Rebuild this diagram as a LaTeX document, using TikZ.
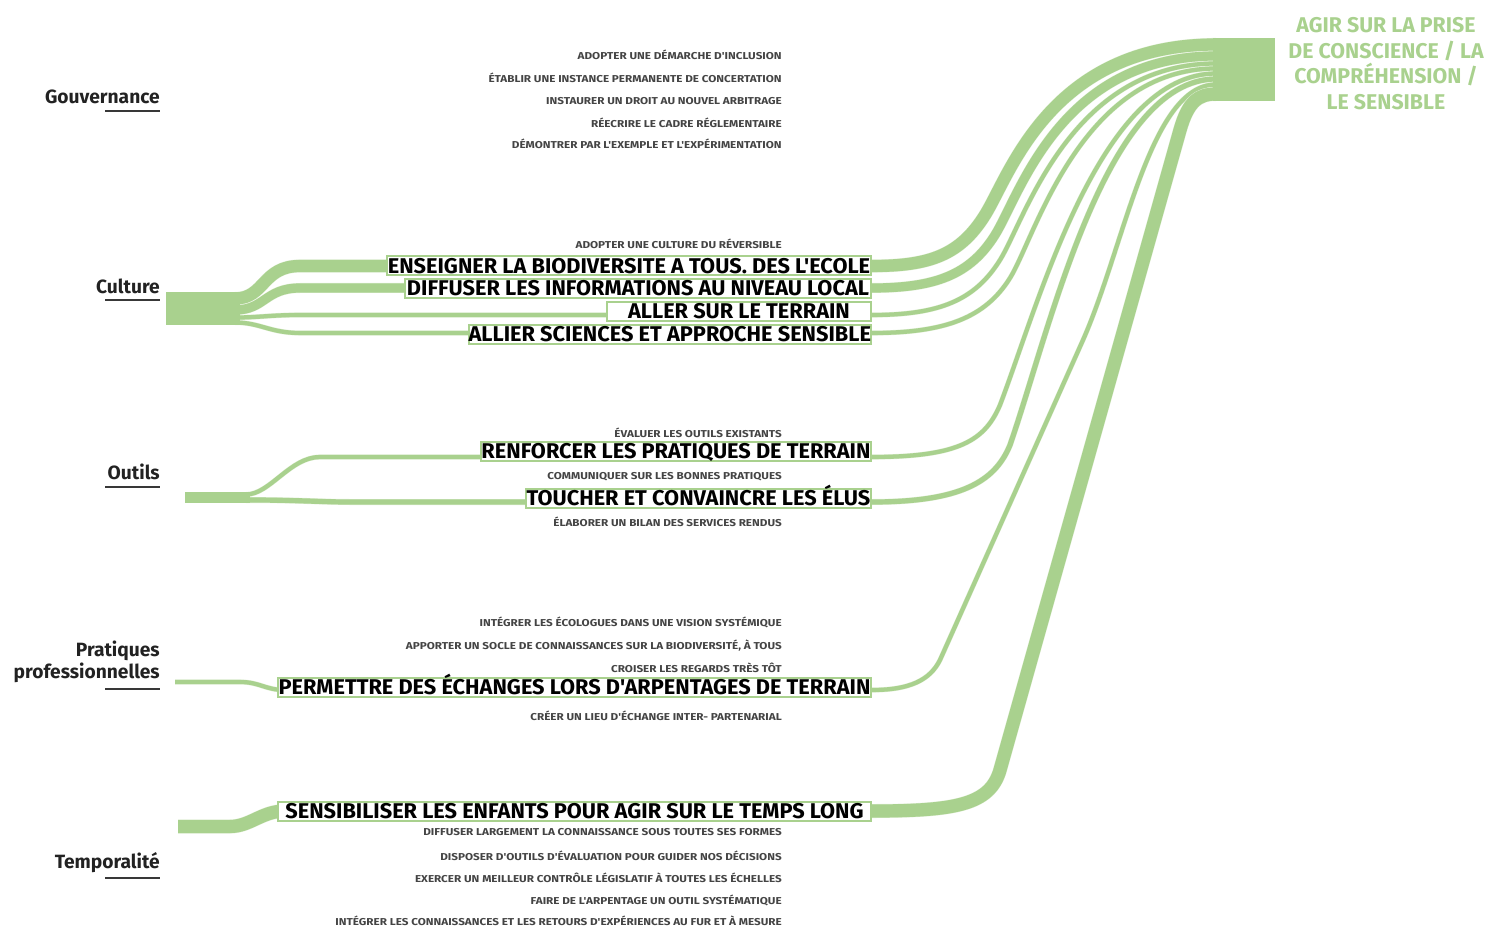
\documentclass[tikz,border=0pt]{standalone}
\usepackage{fontspec}
\setmainfont{Fira Sans}
\newfontfamily\labf[FakeStretch=1.02]{Fira Sans}
\newfontfamily\smf[FakeStretch=1.17]{Fira Sans}
\newfontfamily\ttlf{Fira Sans}
\definecolor{flowg}{HTML}{A9D18E}
\definecolor{catc}{HTML}{222222}
\definecolor{smc}{HTML}{444444}
\begin{document}
\begin{tikzpicture}[x=0.75pt,y=-0.75pt,
  flow/.style={draw=flowg!35!white, line cap=butt, line join=round, line width=0.3pt,
    double=flowg, double distance=#1},
  lab/.style={draw=flowg, line width=1.5pt, fill=white, inner sep=0pt, anchor=east,
    minimum height=14.25pt, text height=11pt, text depth=0pt,
    font=\labf\bfseries\fontsize{16}{16}\selectfont, text=black},
  sm/.style={anchor=east, inner sep=0pt, text=smc, font=\smf\bfseries\fontsize{7.5}{7.5}\selectfont},
  cat/.style={anchor=east, inner sep=0pt, align=right, text=catc, font=\bfseries\fontsize{14.4}{16.5}\selectfont},
  uline/.style={draw=catc!90, line width=1.9pt},
  ttl/.style={align=center, inner sep=0pt, text=flowg, font=\ttlf\bfseries\fontsize{16}{19.2}\selectfont}]
\useasboundingbox (0,0) rectangle (1488,927);

% ---------- category labels ----------
\node[cat] (gouv) at (160,97) {Gouvernance};
\node[cat] (cult) at (160,286) {Culture};
\node[cat] (outi) at (160,472) {Outils};
\node[cat] (prat) at (160,662) {Pratiques\\professionnelles};
\node[cat] (temp) at (160,863) {Temporalité};
\draw[uline] (105,111) -- (160,111);
\draw[uline] (105,300) -- (160,300);
\draw[uline] (105,487) -- (160,487);
\draw[uline] (105,689) -- (160,689);
\draw[uline] (105,878) -- (160,878);

% ---------- stream end points ----------
\coordinate (sE) at (235,298.5);
\coordinate (sD) at (235,310);
\coordinate (sA) at (235,317.5);
\coordinate (sL) at (235,322.5);
\coordinate (sR) at (246,494.5);
\coordinate (sT) at (246,500);
\coordinate (sP) at (175,682);
\coordinate (sS) at (178,826.5);
\coordinate (tE) at (1216,44.5);
\coordinate (tD) at (1216,56);
\coordinate (tA) at (1216,63.5);
\coordinate (tL) at (1216,68.5);
\coordinate (tR) at (1216,73.5);
\coordinate (tT) at (1216,79);
\coordinate (tP) at (1216,84.5);
\coordinate (tS) at (1216,94);

% ---------- streams ----------
\draw[flow=9.2pt] (sE) .. controls (265,298.5) and (262,266) .. (300,266) -- (872,266)
  .. controls (930,266) and (960,255) .. (985,215) .. controls (1010,175) and (1050,44.5) .. (tE);
\draw[flow=6.9pt] (sD) .. controls (265,310) and (265,288) .. (300,288) -- (872,288)
  .. controls (935,288) and (970,275) .. (995,235) .. controls (1020,195) and (1060,56) .. (tD);
\draw[flow=3.2pt] (sA) .. controls (260,317.5) and (270,315) .. (300,315) -- (872,315)
  .. controls (940,315) and (975,300) .. (1000,260) .. controls (1025,220) and (1070,63.5) .. (tA);
\draw[flow=3.2pt] (sL) .. controls (260,322.5) and (270,333) .. (300,333) -- (872,333)
  .. controls (945,333) and (985,318) .. (1010,278) .. controls (1035,238) and (1080,68.5) .. (tL);
\draw[flow=3.2pt] (sR) .. controls (270,494.5) and (290,457) .. (320,457) -- (872,457)
  .. controls (960,457) and (985,440) .. (1000,405) .. controls (1040,300) and (1100,73.5) .. (tR);
\draw[flow=3.9pt] (sT) .. controls (300,500) and (320,502) .. (350,502) -- (872,502)
  .. controls (960,502) and (995,482) .. (1010,445) .. controls (1050,330) and (1105,79) .. (tT);
\draw[flow=3.2pt] (sP) -- (240,682) .. controls (260,682) and (265,690) .. (285,690) -- (872,690)
  .. controls (910,690) and (930,680) .. (940,660) -- (1083,340) .. controls (1125,245) and (1150,84.5) .. (tP);
\draw[flow=9.9pt] (sS) -- (230,826.5) .. controls (250,826.5) and (262,811) .. (285,811) -- (872,811)
  .. controls (955,811) and (990,805) .. (1000,770) -- (1180,130) .. controls (1188,102) and (1198,94) .. (tS);

% source and target blocks
\fill[flowg] (166,292) rectangle (240,325);
\fill[flowg] (185,492) rectangle (250,503);
\fill[flowg] (1213,38) rectangle (1275,101);

% ---------- boxed labels ----------
\node[lab, minimum width=363pt] (bE) at (872,266) {ENSEIGNER LA BIODIVERSITE A TOUS. DES L'ECOLE};
\node[lab, minimum width=349.5pt] (bD) at (872,288.5) {DIFFUSER LES INFORMATIONS AU NIVEAU LOCAL};
\node[lab, minimum width=198pt] (bA) at (872,311) {ALLER SUR LE TERRAIN};
\node[lab, minimum width=297.75pt] (bL) at (872,334) {ALLIER SCIENCES ET APPROCHE SENSIBLE};
\node[lab, minimum width=292.5pt] (bR) at (872,451) {RENFORCER LES PRATIQUES DE TERRAIN};
\node[lab, minimum width=258.75pt] (bT) at (872,498) {TOUCHER ET CONVAINCRE LES ÉLUS};
\node[lab, minimum width=444.75pt] (bP) at (872,687.5) {PERMETTRE DES ÉCHANGES LORS D'ARPENTAGES DE TERRAIN};
\node[lab, minimum width=444.75pt] (bS) at (872,811.5) {SENSIBILISER LES ENFANTS POUR AGIR SUR LE TEMPS LONG};

% ---------- small labels ----------
\node[sm] (g1) at (782,55) {ADOPTER UNE DÉMARCHE D'INCLUSION};
\node[sm] (g2) at (782,78) {ÉTABLIR UNE INSTANCE PERMANENTE DE CONCERTATION};
\node[sm] (g3) at (782,101) {INSTAURER UN DROIT AU NOUVEL ARBITRAGE};
\node[sm] (g4) at (782,123) {RÉECRIRE LE CADRE RÉGLEMENTAIRE};
\node[sm] (g5) at (782,144) {DÉMONTRER PAR L'EXEMPLE ET L'EXPÉRIMENTATION};
\node[sm] (c1) at (782,244) {ADOPTER UNE CULTURE DU RÉVERSIBLE};
\node[sm] (o1) at (782,433) {ÉVALUER LES OUTILS EXISTANTS};
\node[sm] (o2) at (782,477) {COMMUNIQUER SUR LES BONNES PRATIQUES};
\node[sm] (o3) at (782,522) {ÉLABORER UN BILAN DES SERVICES RENDUS};
\node[sm] (p1) at (782,622) {INTÉGRER LES ÉCOLOGUES DANS UNE VISION SYSTÉMIQUE};
\node[sm] (p2) at (782,646) {APPORTER UN SOCLE DE CONNAISSANCES SUR LA BIODIVERSITÉ, À TOUS};
\node[sm] (p3) at (782,668) {CROISER LES REGARDS TRÈS TÔT};
\node[sm] (p4) at (782,716) {CRÉER UN LIEU D'ÉCHANGE INTER- PARTENARIAL};
\node[sm] (t1) at (782,832) {DIFFUSER LARGEMENT LA CONNAISSANCE SOUS TOUTES SES FORMES};
\node[sm] (t2) at (782,856) {DISPOSER D'OUTILS D'ÉVALUATION POUR GUIDER NOS DÉCISIONS};
\node[sm] (t3) at (782,878) {EXERCER UN MEILLEUR CONTRÔLE LÉGISLATIF À TOUTES LES ÉCHELLES};
\node[sm] (t4) at (782,900) {FAIRE DE L'ARPENTAGE UN OUTIL SYSTÉMATIQUE};
\node[sm] (t5) at (782,921) {INTÉGRER LES CONNAISSANCES ET LES RETOURS D'EXPÉRIENCES AU FUR ET À MESURE};

% ---------- title ----------
\node[ttl] (title) at (1386,63.5) {AGIR SUR LA PRISE\\DE CONSCIENCE / LA\\COMPRÉHENSION /\\LE SENSIBLE};
\end{tikzpicture}
\end{document}
